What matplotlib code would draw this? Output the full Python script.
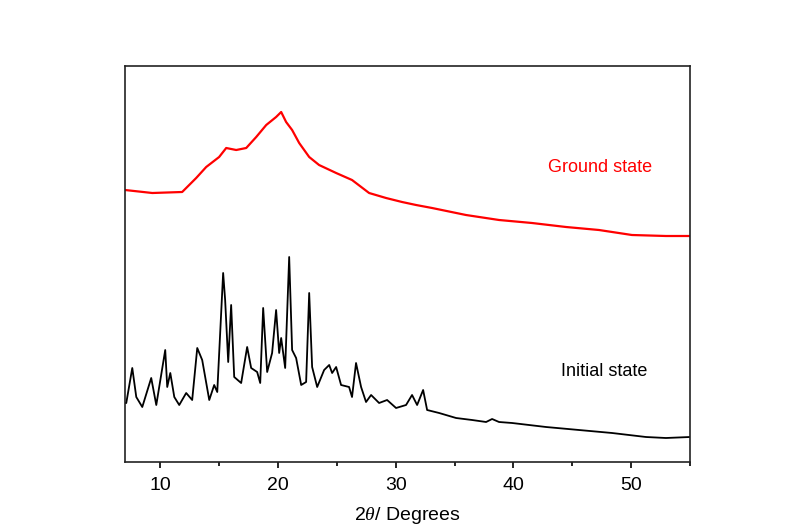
import matplotlib
matplotlib.use("Agg")
import matplotlib.pyplot as plt
from matplotlib.ticker import MultipleLocator

plt.rcParams['font.family'] = ['Liberation Sans', 'DejaVu Sans']
plt.rcParams['mathtext.fontset'] = 'custom'
plt.rcParams['mathtext.it'] = 'Liberation Serif:italic'

# Initial state (black)
init_x = [7.0, 7.11, 7.62, 7.96, 8.47, 9.23, 9.66, 10.42, 10.59, 10.85, 11.19, 11.61,
          12.20, 12.71, 13.14, 13.56, 14.16, 14.58, 14.84, 15.34, 15.51, 15.77, 16.02,
          16.28, 16.87, 17.38, 17.72, 18.23, 18.49, 18.74, 19.08, 19.50, 19.84, 20.10,
          20.27, 20.61, 20.95, 21.20, 21.54, 21.97, 22.39, 22.65, 22.90, 23.33, 23.92,
          24.35, 24.60, 24.94, 25.36, 26.04, 26.29, 26.63, 27.06, 27.48, 27.91, 28.59,
          29.27, 30.03, 30.88, 31.39, 31.82, 32.33, 32.67, 33.69, 35.13, 36.49, 37.68,
          38.19, 38.78, 39.89, 42.77, 45.57, 48.38, 51.26, 52.96, 55.0]
init_y = [59, 59, 94, 65, 55, 84, 57, 112, 75, 89, 65, 57,
          69, 62, 114, 102, 62, 77, 70, 189, 162, 100, 157,
          85, 79, 115, 94, 90, 79, 154, 90, 109, 152, 109,
          124, 94, 205, 112, 104, 77, 80, 169, 95, 75, 92,
          97, 89, 95, 77, 75, 65, 99, 75, 60, 67, 59,
          62, 54, 57, 67, 57, 72, 52, 49, 44, 42, 40,
          43, 40, 39, 35, 32, 29, 25, 24, 25]

# Ground state (red)
ground_x = [7.0, 9.32, 11.86, 13.05, 13.90, 15.00, 15.60, 16.45, 17.30, 18.15, 19.00,
            19.84, 20.27, 20.69, 21.20, 21.80, 22.65, 23.49, 24.94, 26.29, 27.74,
            29.18, 30.54, 31.73, 33.09, 35.97, 38.78, 41.58, 44.47, 47.27, 50.07,
            52.96, 55.0]
ground_y = [272, 269, 270, 284, 295, 305, 314, 312, 314, 325, 337,
            345, 350, 340, 332, 319, 305, 297, 289, 282, 269,
            264, 260, 257, 254, 247, 242, 239, 235, 232, 227,
            226, 226]

fig = plt.figure(figsize=(7.87, 5.28), dpi=100)
ax = fig.add_axes([0.1588, 0.125, 0.7179, 0.75])

ax.plot(ground_x, ground_y, color='#ff0000', lw=1.6)
ax.plot(init_x, init_y, color='black', lw=1.3)

ax.text(42.93, 295, 'Ground state', color='#ff0000', fontsize=13, va='center', ha='left')
ax.text(44.04, 91, 'Initial state', color='black', fontsize=13, va='center', ha='left')

ax.set_xlim(7, 55)
ax.set_ylim(0, 396)
ax.xaxis.set_major_locator(MultipleLocator(10))
ax.xaxis.set_minor_locator(MultipleLocator(5))
ax.tick_params(axis='x', which='major', direction='out', length=4, width=1.2,
               labelsize=14, pad=7, top=False)
ax.tick_params(axis='x', which='minor', direction='out', length=3, width=1.2, top=False)
ax.set_yticks([])
for s in ax.spines.values():
    s.set_linewidth(1.2)
    s.set_color('#222222')

ax.set_xlabel(r'2$\it{\theta}$/ Degrees', fontsize=14, labelpad=8)

fig.savefig('out.png', dpi=100)
